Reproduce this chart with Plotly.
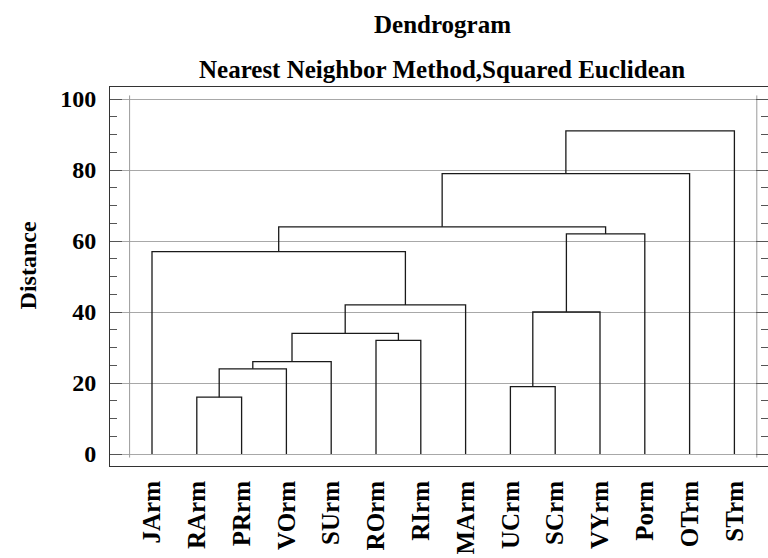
import plotly.graph_objects as go

# leaves in dendrogram order
leaves = ['JArm', 'RArm', 'PRrm', 'VOrm', 'SUrm', 'ROrm', 'RIrm',
          'MArm', 'UCrm', 'SCrm', 'VYrm', 'Porm', 'OTrm', 'STrm']

# merges: new cluster id = 14, 15, ... (scipy-style linkage)
merge_a = [1, 14, 15, 5, 16, 18, 0, 8, 21, 22, 20, 24, 25]
merge_b = [2, 3, 4, 6, 17, 7, 19, 9, 10, 11, 23, 12, 13]
merge_dist = [16, 24, 26, 32, 34, 42, 57, 19, 40, 62, 64, 79, 91]

yticks = [0, 20, 40, 60, 80, 100]

FONT = 'Liberation Serif, Times New Roman, serif'

# cluster positions
pos = {i: (float(i), 0.0) for i in range(len(leaves))}
xs, ys = [], []
for k, (a, b, d) in enumerate(zip(merge_a, merge_b, merge_dist)):
    xa, ya = pos[a]
    xb, yb = pos[b]
    xs += [xa, xa, xb, xb, None]
    ys += [ya, d, d, yb, None]
    pos[len(leaves) + k] = ((xa + xb) / 2, d)

fig = go.Figure()

# gray bounding verticals
fig.add_trace(go.Scatter(x=[-0.5, -0.5, None, 13.5, 13.5], y=[-1, 101, None, -1, 101],
                         mode='lines', line=dict(color='#9a9a9a', width=1),
                         hoverinfo='skip', showlegend=False))

fig.add_trace(go.Scatter(x=xs, y=ys, mode='lines',
                         line=dict(color='#1a1a1a', width=1.3),
                         hoverinfo='skip', showlegend=False))

fig.update_layout(
    width=768, height=558,
    margin=dict(l=110, r=0, t=87, b=92),
    plot_bgcolor='white', paper_bgcolor='white',
    font=dict(family=FONT, size=23, color='black', weight='bold'),
    showlegend=False,
)

fig.update_xaxes(
    range=[-0.9375, 13.75], automargin=False,
    tickmode='array', tickvals=list(range(len(leaves))), ticktext=leaves,
    tickangle=-90, ticks='', showgrid=False, zeroline=False,
    showline=True, linecolor='#333', linewidth=1, mirror=True,
    tickfont=dict(family=FONT, size=25, color='black', weight='bold'),
    ticklabelstandoff=4,
)

fig.update_yaxes(
    range=[-3.38, 103.38], automargin=False,
    tickmode='array', tickvals=yticks,
    ticks='inside', ticklen=12, tickcolor='#555', tickwidth=1,
    minor=dict(dtick=5, tick0=0, ticks='inside', ticklen=7, tickcolor='#555', showgrid=False),
    showgrid=True, gridcolor='#a8a8a8', gridwidth=1, zeroline=False,
    showline=True, linecolor='#333', linewidth=1, mirror='allticks',
    tickfont=dict(family=FONT, size=24, color='black', weight='bold'),
    ticklabelstandoff=8,
)

fig.add_annotation(text='Dendrogram', xref='paper', yref='paper', x=0.505, y=1.165,
                   yanchor='middle', showarrow=False,
                   font=dict(family=FONT, size=25, color='black', weight='bold'))
fig.add_annotation(text='Nearest Neighbor Method,Squared Euclidean', xref='paper', yref='paper',
                   x=0.505, y=1.045, yanchor='middle', showarrow=False,
                   font=dict(family=FONT, size=25, color='black', weight='bold'))
fig.add_annotation(text='Distance', xref='paper', yref='paper', x=-0.147, y=0.53,
                   textangle=-90, showarrow=False,
                   font=dict(family=FONT, size=24, color='black', weight='bold'))

fig.write_html("out.html", config={'displayModeBar': False},
               post_script="document.body.style.margin='0';")
